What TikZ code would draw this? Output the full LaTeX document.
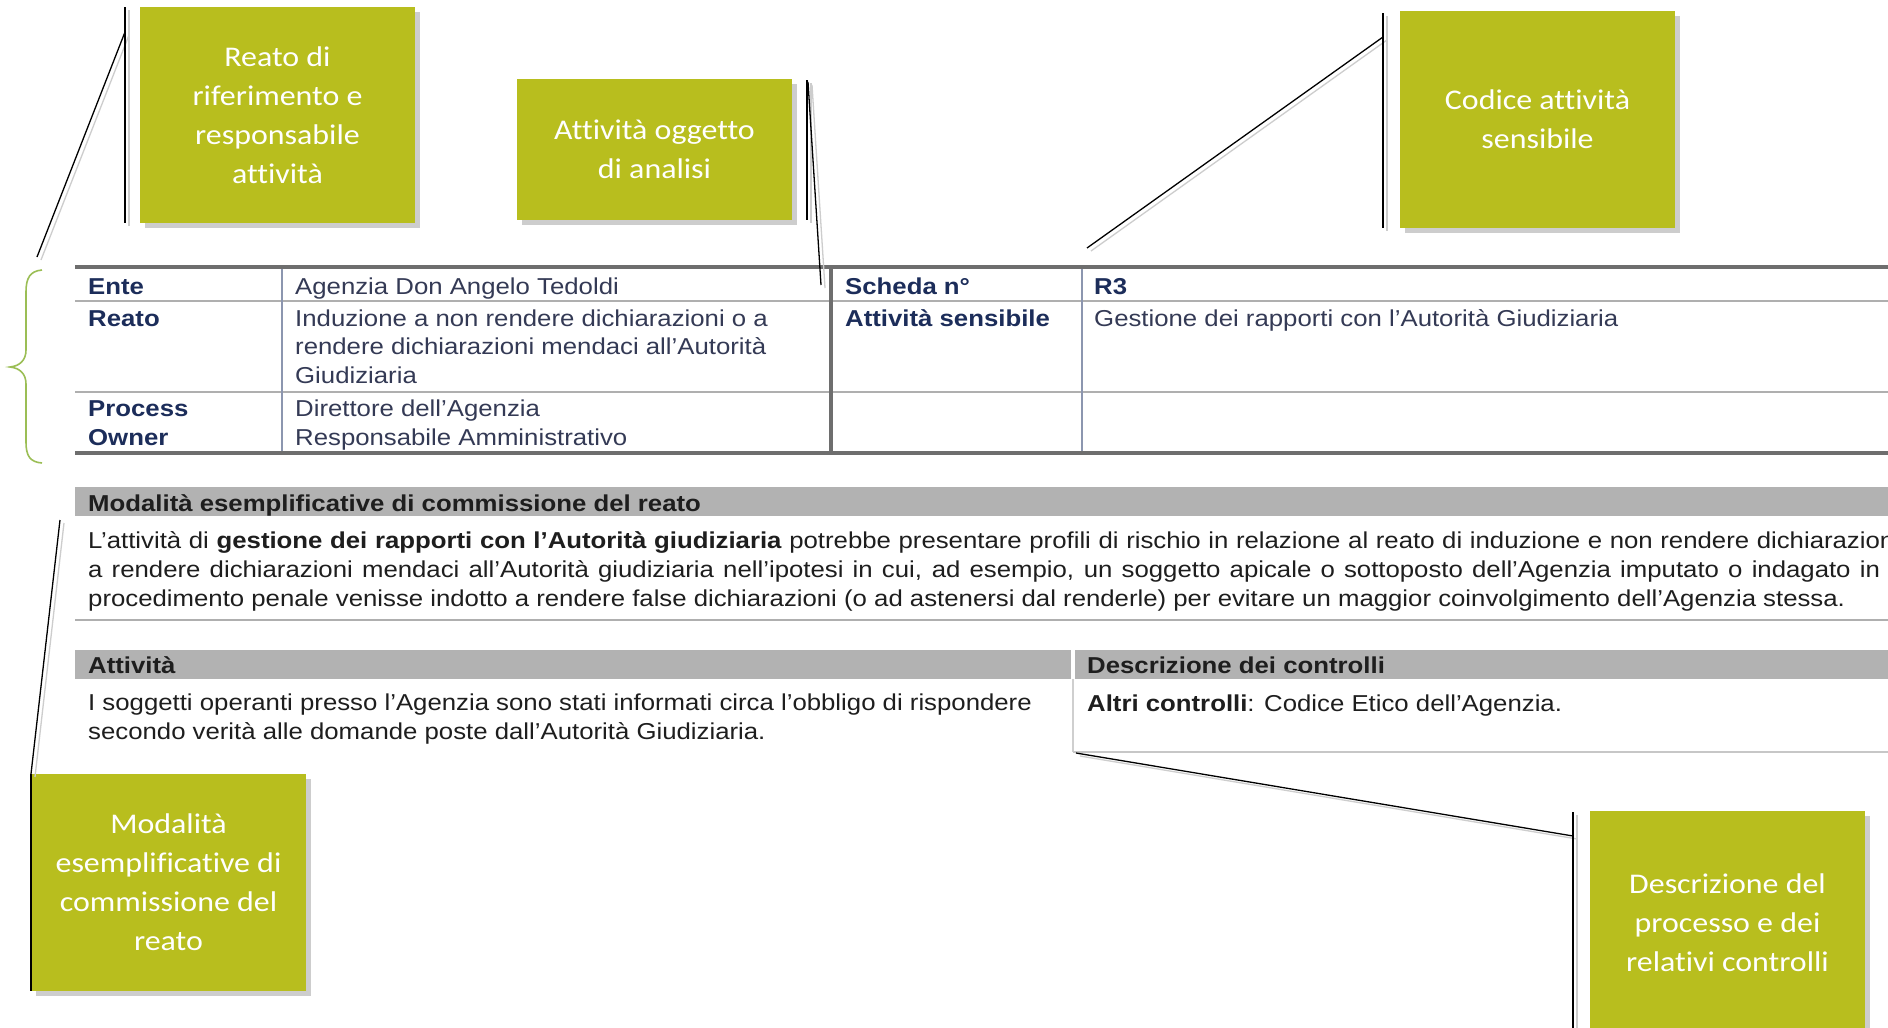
\documentclass[tikz,border=0pt]{standalone}
\usepackage{fontspec}
\setmainfont{Liberation Sans}[FakeStretch=1.12, Ligatures=NoCommon]
\newfontfamily\calfam{Carlito}[FakeStretch=1.12, Ligatures=NoCommon]
\usetikzlibrary{shadows}
\definecolor{boxgreen}{RGB}{184,190,30}
\definecolor{shadowgrey}{RGB}{205,205,205}
\definecolor{labelblue}{RGB}{28,45,90}
\definecolor{valblue}{RGB}{52,58,85}
\definecolor{bandgrey}{RGB}{178,178,178}
\definecolor{rulegrey}{RGB}{110,110,110}
\definecolor{thingrey}{RGB}{175,175,175}
\definecolor{bluegrey}{RGB}{140,150,175}
\definecolor{bracegreen}{RGB}{155,190,85}
\definecolor{textdark}{RGB}{30,30,30}
\newcommand\tabsize{\fontsize{23pt}{29pt}\selectfont}
\newcommand\calsize{\calfam\fontsize{28.5pt}{39pt}\selectfont}
\tikzset{
  lab/.style={anchor=base west, inner sep=0pt, font=\tabsize\bfseries, text=labelblue},
  val/.style={anchor=base west, inner sep=0pt, font=\tabsize, text=valblue},
  ptext/.style={anchor=base west, inner sep=0pt, font=\tabsize, text=textdark},
  btext/.style={anchor=base west, inner sep=0pt, font=\tabsize\bfseries, text=textdark},
  callout/.style={fill=boxgreen, text=white, font=\calsize, align=center, inner sep=0pt,
    minimum width=275pt, drop shadow={shadow xshift=5pt, shadow yshift=-5pt, fill=shadowgrey, opacity=1}},
  conn/.style={black, line width=1.3pt},
  connshadow/.style={shadowgrey, line width=1.3pt, transform canvas={shift={(4pt,-3pt)}}},
  thickrule/.style={rulegrey, line width=3.5pt},
  thinrule/.style={thingrey, line width=1.5pt},
  band/.style={fill=bandgrey},
}
\begin{document}
\begin{tikzpicture}[x=1pt, y=-1pt]
\useasboundingbox (0,0) rectangle (1888,1028);
\clip (0,0) rectangle (1888,1028);
\fill[white] (0,0) rectangle (1888,1028);

% ---------- table ----------
\draw[thinrule] (75,301) -- (1888,301);
\draw[thinrule] (75,392) -- (1888,392);
\draw[bluegrey, line width=1.5pt] (282,267) -- (282,453);
\draw[bluegrey, line width=1.5pt] (1082,267) -- (1082,453);
\draw[thickrule] (831,267) -- (831,453);
\draw[thickrule] (75,267) -- (1888,267);
\draw[thickrule] (75,453) -- (1888,453);

\node[lab] (ente) at (88,294) {Ente};
\node[val] (enteV) at (295,294) {Agenzia Don Angelo Tedoldi};
\node[lab] (reato) at (88,326) {Reato};
\node[val] (reatoV1) at (295,326) {Induzione a non rendere dichiarazioni o a};
\node[val] (reatoV2) at (295,354) {rendere dichiarazioni mendaci all’Autorità};
\node[val] (reatoV3) at (295,383) {Giudiziaria};
\node[lab] (proc) at (88,416) {Process};
\node[lab] (owner) at (88,445) {Owner};
\node[val] (procV1) at (295,416) {Direttore dell’Agenzia};
\node[val] (procV2) at (295,445) {Responsabile Amministrativo};
\node[lab] (scheda) at (845,294) {Scheda n°};
\node[lab] (attsens) at (845,326) {Attività sensibile};
\node[lab] (r3) at (1094,294) {R3};
\node[val] (gest) at (1094,326) {Gestione dei rapporti con l'Autorità Giudiziaria};

% ---------- modalita section ----------
\fill[band] (75,487) rectangle (1888,516);
\node[btext] (modh) at (88,511) {Modalità esemplificative di commissione del reato};
\node[ptext] (p1) at (88,548) {\makebox[1812pt][s]{L’attività di \textbf{gestione dei rapporti con l’Autorità giudiziaria} potrebbe presentare profili di rischio in relazione al reato di induzione e non rendere dichiarazioni}};
\node[ptext] (p2) at (88,577) {\makebox[1792pt][s]{a rendere dichiarazioni mendaci all’Autorità giudiziaria nell’ipotesi in cui, ad esempio, un soggetto apicale o sottoposto dell’Agenzia imputato o indagato in}};
\node[ptext] (p3) at (88,606) {procedimento penale venisse indotto a rendere false dichiarazioni (o ad astenersi dal renderle) per evitare un maggior coinvolgimento dell’Agenzia stessa.};
\draw[thinrule, line width=2pt] (75,620) -- (1888,620);

% ---------- attivita / controlli ----------
\fill[band] (75,650) rectangle (1071,679);
\fill[band] (1075,650) rectangle (1888,679);
\draw[thingrey!60, line width=1.2pt] (1073,679) -- (1073,752);
\draw[thingrey!70, line width=1.5pt] (1073,752) -- (1888,752);
\node[btext] (atth) at (88,673) {Attività};
\node[btext] (desch) at (1087,673) {Descrizione dei controlli};
\node[ptext] (a1) at (88,710) {I soggetti operanti presso l’Agenzia sono stati informati circa l’obbligo di rispondere};
\node[ptext] (a2) at (88,739) {secondo verità alle domande poste dall’Autorità Giudiziaria.};
\node[ptext] (c1) at (1087,711) {\textbf{Altri controlli}: Codice Etico dell’Agenzia.};

% ---------- brace ----------
\draw[bracegreen, line width=1.6pt] (42,270) .. controls (30,271) and (26,278) .. (26,292) -- (26,350)
  .. controls (26,360) and (20,366) .. (10,367) .. controls (20,368) and (26,374) .. (26,384)
  -- (26,442) .. controls (26,456) and (30,462) .. (42,463);

% ---------- callout boxes ----------
\node[callout, minimum height=216pt] (b1) at (277.5,115) {Reato di\\riferimento e\\responsabile\\attività};
\node[callout, minimum height=141pt] (b2) at (654.5,149.5) {Attività oggetto\\di analisi};
\node[callout, minimum height=217pt] (b3) at (1537.5,119.5) {Codice attività\\sensibile};
\node[callout, minimum height=217pt] (b4) at (168.5,882.5) {Modalità\\esemplificative di\\commissione del\\reato};
\node[callout, minimum height=224pt] (b5) at (1727.5,923) {Descrizione del\\processo e dei\\relativi controlli};

% ---------- connector coordinates ----------
\coordinate (k1t) at (125,7);   \coordinate (k1b) at (125,223);
\coordinate (k1j) at (125,32);  \coordinate (k1e) at (37,257);
\coordinate (k2t) at (807,80);  \coordinate (k2b) at (807,220);
\coordinate (k2j) at (808,82);  \coordinate (k2e) at (821,285);
\coordinate (k3t) at (1383,13); \coordinate (k3b) at (1383,228);
\coordinate (k3j) at (1383,37); \coordinate (k3e) at (1087,248);
\coordinate (k4t) at (31,774);  \coordinate (k4b) at (31,991);
\coordinate (k4s) at (60,520);
\coordinate (k5t) at (1573,812); \coordinate (k5b) at (1573,1028);
\coordinate (k5s) at (1076,753); \coordinate (k5j) at (1573,836);

% shadows of connectors
\draw[connshadow] (k1t) -- (k1b);
\draw[connshadow] (k1j) -- (k1e);
\draw[connshadow] (k2t) -- (k2b);
\draw[connshadow] (k2j) -- (k2e);
\draw[connshadow] (k3t) -- (k3b);
\draw[connshadow] (k3j) -- (k3e);
\draw[connshadow] (k4s) -- (k4t);
\draw[connshadow] (k5t) -- (k5b);
\draw[connshadow] (k5s) -- (k5j);

% connectors
\draw[conn] (k1t) -- (k1b);
\draw[conn] (k1j) -- (k1e);
\draw[conn] (k2t) -- (k2b);
\draw[conn] (k2j) -- (k2e);
\draw[conn] (k3t) -- (k3b);
\draw[conn] (k3j) -- (k3e);
\draw[conn] (k4t) -- (k4b);
\draw[conn] (k4s) -- (k4t);
\draw[conn] (k5t) -- (k5b);
\draw[conn] (k5s) -- (k5j);
\end{tikzpicture}
\end{document}
